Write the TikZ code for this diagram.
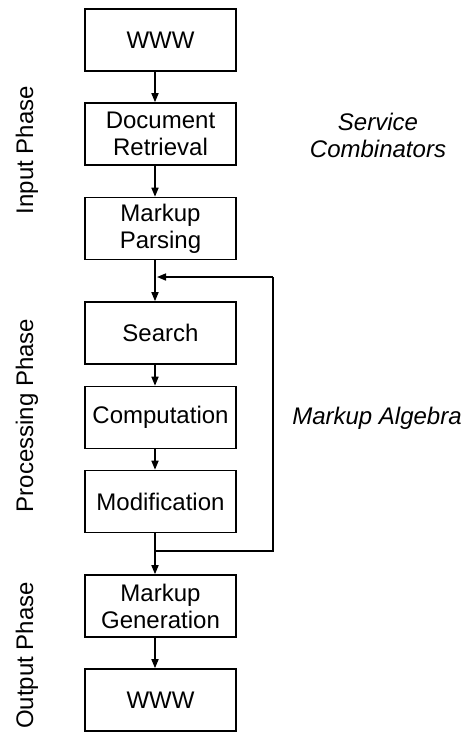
\documentclass[tikz,border=0pt]{standalone}
\usepackage{fontspec}
\setmainfont{Liberation Sans}
\usetikzlibrary{arrows.meta}
\begin{document}
\begin{tikzpicture}[x=1pt,y=-1pt,
  box/.style={draw,line width=1.6pt,minimum width=151pt,minimum height=62pt,inner sep=0pt,
    align=center,font=\fontsize{24}{27}\selectfont},
  arr/.style={line width=1.6pt,-{Triangle[length=9pt,width=7pt]}},
  line/.style={line width=1.6pt},
  phase/.style={rotate=90,font=\fontsize{24}{27}\selectfont},
  note/.style={align=center,font=\fontsize{24}{27}\selectfont\itshape}]
\useasboundingbox (0,0) rectangle (465,732);
\node[box] (www1) at (160.5,40) {WWW};
\node[box] (doc) at (160.5,134) {Document\\Retrieval};
\node[box] (parse) at (160.5,228.5) {Markup\\Parsing};
\node[box] (search) at (160.5,333) {Search};
\node[box] (comp) at (160.5,417.5) {Computation};
\node[box] (mod) at (160.5,501.5) {Modification};
\node[box] (gen) at (160.5,606) {Markup\\Generation};
\node[box] (www2) at (160.5,700) {WWW};
\foreach \a/\b in {www1/doc,doc/parse,parse/search,search/comp,comp/mod,mod/gen,gen/www2}
  \draw[arr] ([xshift=-5.5pt]\a.south) -- ([xshift=-5.5pt]\b.north);
\coordinate (fbtop) at (273,277);
\coordinate (fbbot) at (273,551);
\coordinate (fbin) at (157,277);
\coordinate (fbout) at (155,551);
\draw[line] (fbout) -- (fbbot) -- (fbtop);
\draw[arr] (fbtop) -- (fbin);
\node[phase] (p1) at (27,150) {Input Phase};
\node[phase] (p2) at (27,415.5) {Processing Phase};
\node[phase] (p3) at (27,655.5) {Output Phase};
\node[note] (sc) at (378,135) {Service\\Combinators};
\node[note] (ma) at (377,418) {Markup Algebra};
\end{tikzpicture}
\end{document}
